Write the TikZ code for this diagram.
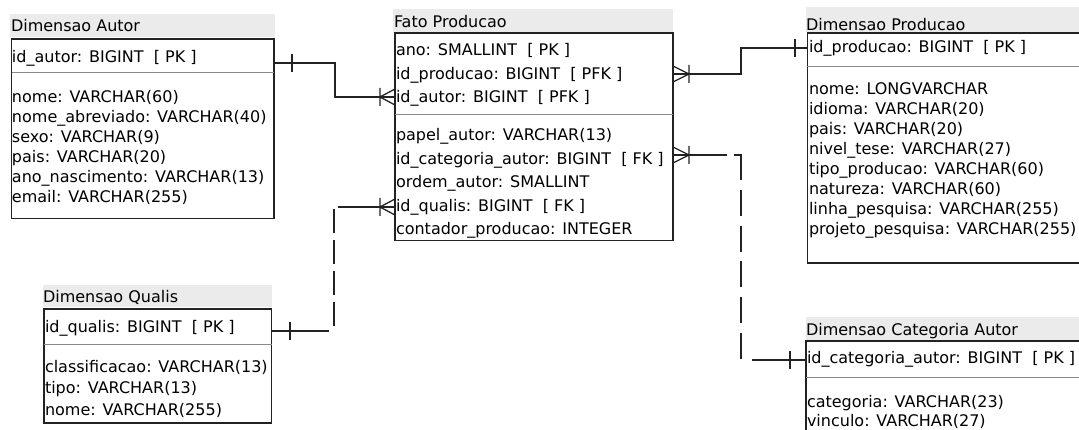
\documentclass[tikz,border=0pt]{standalone}
\usepackage{fontspec}
\setmainfont{DejaVu Sans}
\definecolor{titlegray}{HTML}{EBEBEB}
\definecolor{lnc}{HTML}{222222}
\definecolor{divc}{HTML}{8A8A8A}
\tikzset{
  tbl/.style={draw=lnc, line width=1.3pt, anchor=north west, inner sep=0pt, outer sep=0pt},
  bar/.style={fill=titlegray, anchor=north west, inner sep=0pt, outer sep=0pt},
  row/.style={anchor=base west, inner sep=0pt, outer sep=0pt, font=\fontsize{16}{20}\selectfont, text=black},
  div/.style={draw=divc, line width=1pt},
  conn/.style={draw=lnc, line width=1.3pt},
}
\begin{document}
\begin{tikzpicture}[x=1pt,y=-1pt]
\useasboundingbox (0,0) rectangle (1079,430);
\fill[white] (0,0) rectangle (1079,430);
\clip (0,0) rectangle (1079,430);

% ---------------- Dimensao Autor
\node[bar, minimum width=265, minimum height=23] (autor-bar) at (10,14) {};
\node[row] (autor-t) at (11,31.5) {Dimensao Autor};
\node[tbl, minimum width=262.5, minimum height=179.5] (autor) at (11.5,39) {};
\draw[div] (autor.west |- 0,73) -- (autor.east |- 0,73);
\node[row] (autor-pk) at (12,63) {id\_autor: BIGINT\ \ [ PK ]};
\foreach \t [count=\i] in {nome: VARCHAR(60), nome\_abreviado: VARCHAR(40), sexo: VARCHAR(9), pais: VARCHAR(20), ano\_nascimento: VARCHAR(13), email: VARCHAR(255)}
  \node[row] (autor-b\i) at (12,{103+(\i-1)*20}) {\t};

% ---------------- Fato Producao
\node[bar, minimum width=280, minimum height=24] (fato-bar) at (393,9) {};
\node[row] (fato-t) at (394,28) {Fato Producao};
\node[tbl, minimum width=278, minimum height=207.5] (fato) at (395,33) {};
\draw[div] (fato.west |- 0,115) -- (fato.east |- 0,115);
\foreach \t [count=\i] in {ano: SMALLINT\ \ [ PK ], id\_producao: BIGINT\ \ [ PFK ], id\_autor: BIGINT\ \ [ PFK ]}
  \node[row] (fato-k\i) at (396,{56+(\i-1)*23.5}) {\t};
\foreach \t [count=\i] in {papel\_autor: VARCHAR(13), id\_categoria\_autor: BIGINT\ \ [ FK ], ordem\_autor: SMALLINT, id\_qualis: BIGINT\ \ [ FK ], contador\_producao: INTEGER}
  \node[row] (fato-b\i) at (396,{141+(\i-1)*23.4}) {\t};

% ---------------- Dimensao Producao
\node[bar, minimum width=280, minimum height=25] (prod-bar) at (806,7) {};
\node[row] (prod-t) at (806,31) {Dimensao Producao};
\node[tbl, minimum width=280, minimum height=230] (prod) at (807.3,33) {};
\draw[div] (prod.west |- 0,67) -- (prod.east |- 0,67);
\node[row] (prod-pk) at (809,53) {id\_producao: BIGINT\ \ [ PK ]};
\foreach \t [count=\i] in {nome: LONGVARCHAR, idioma: VARCHAR(20), pais: VARCHAR(20), nivel\_tese: VARCHAR(27), tipo\_producao: VARCHAR(60), natureza: VARCHAR(60), linha\_pesquisa: VARCHAR(255), projeto\_pesquisa: VARCHAR(255)}
  \node[row] (prod-b\i) at (809,{95+(\i-1)*20}) {\t};

% ---------------- Dimensao Qualis
\node[bar, minimum width=229, minimum height=22] (qualis-bar) at (43,285) {};
\node[row] (qualis-t) at (43,303) {Dimensao Qualis};
\node[tbl, minimum width=227.7, minimum height=114] (qualis) at (44,309) {};
\draw[div] (qualis.west |- 0,344) -- (qualis.east |- 0,344);
\node[row] (qualis-pk) at (45,333) {id\_qualis: BIGINT\ \ [ PK ]};
\foreach \t [count=\i] in {classificacao: VARCHAR(13), tipo: VARCHAR(13), nome: VARCHAR(255)}
  \node[row] (qualis-b\i) at (45,{372+(\i-1)*21.5}) {\t};

% ---------------- Dimensao Categoria Autor
\node[bar, minimum width=280, minimum height=24] (cat-bar) at (806,317) {};
\node[row] (cat-t) at (806,336) {Dimensao Categoria Autor};
\node[tbl, minimum width=280, minimum height=100] (cat) at (806,341) {};
\draw[div] (cat.west |- 0,377) -- (cat.east |- 0,377);
\node[row] (cat-pk) at (807,363) {id\_categoria\_autor: BIGINT\ \ [ PK ]};
\foreach \t [count=\i] in {categoria: VARCHAR(23), vinculo: VARCHAR(27)}
  \node[row] (cat-b\i) at (807,{407+(\i-1)*19.5}) {\t};

% ---------------- Connectors
% Autor -> Fato
\draw[conn] (autor.east |- 0,63) -- (335,63) -- (335,97) -- (fato.west |- 0,97);
\draw[conn] (292,54) -- (292,72);
\draw[conn] (395,89) -- (380,97) -- (395,105) (380,88) -- (380,106);

% Qualis -> Fato (dashed)
\draw[conn, dash pattern=on 57pt off 10pt on 24pt off 7pt on 24pt off 7pt on 24pt off 7pt on 24pt off 6pt on 62pt off 10pt]
  (qualis.east |- 0,331) -- (334,331) -- (334,207) -- (fato.west |- 0,207);
\draw[conn] (290,322) -- (290,340);
\draw[conn] (395,199) -- (380,207) -- (395,215) (380,198) -- (380,216);

% Fato -> Producao
\draw[conn] (fato.east |- 0,74) -- (741,74) -- (741,48) -- (prod.west |- 0,48);
\draw[conn] (795,39) -- (795,57);
\draw[conn] (673,66) -- (689,74) -- (673,82) (689,65) -- (689,83);

% Fato -> Categoria (dashed)
\draw[conn, dash pattern=on 54pt off 7pt on 32pt off 9.8pt on 26pt off 9.8pt on 26pt off 9.8pt on 26pt off 9.8pt on 26pt off 9.8pt on 26pt off 12pt on 62pt off 10pt]
  (fato.east |- 0,155) -- (741,155) -- (741,360) -- (cat.west |- 0,360);
\draw[conn] (790,351) -- (790,369);
\draw[conn] (673,147) -- (689,155) -- (673,163) (689,146) -- (689,164);
\end{tikzpicture}
\end{document}
